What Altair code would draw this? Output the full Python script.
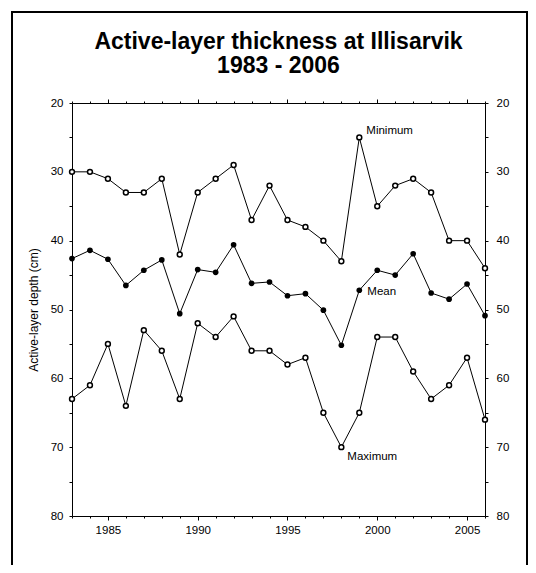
import altair as alt
import pandas as pd

years = list(range(1983, 2007))
minimum = [30, 30, 31, 33, 33, 31, 42, 33, 31, 29, 37, 32, 37, 38, 40, 43, 25, 35, 32, 31, 33, 40, 40, 44]
mean = [42.6, 41.4, 42.7, 46.5, 44.3, 42.8, 50.6, 44.2, 44.6, 40.6, 46.2, 46.0, 48.0, 47.7, 50.1, 55.2,
        47.2, 44.3, 45.0, 41.9, 47.6, 48.5, 46.3, 50.9]
maximum = [63, 61, 55, 64, 53, 56, 63, 52, 54, 51, 56, 56, 58, 57, 65, 70, 65, 54, 54, 59, 63, 61, 57, 66]

label_names = ["Minimum", "Mean", "Maximum"]
label_years = [1999, 1999, 1998]
label_values = [25, 47.2, 70]

y_ticks = list(range(20, 81, 5))

rows = []
for name, vals in [("Minimum", minimum), ("Mean", mean), ("Maximum", maximum)]:
    for yr, v in zip(years, vals):
        rows.append({"year": yr, "depth": v, "series": name})
df = pd.DataFrame(rows)
labels_df = pd.DataFrame({"label": label_names, "year": label_years, "depth": label_values})

FONT = "Liberation Sans"
xscale = alt.Scale(domain=[1983, 2006], nice=False, zero=False)
yscale = alt.Scale(domain=[20, 80], reverse=True, nice=False, zero=False)

x_tick = {"condition": {"test": "datum.value % 5 == 0", "value": 4}, "value": 2}

common = dict(domainColor="black", tickColor="black", grid=False, labelFont=FONT,
              labelFontSize=11.5, labelColor="black", domainWidth=1, tickWidth=1)

ax_bottom = alt.Axis(orient="bottom", values=years, format="d",
                     labelExpr="datum.value % 5 == 0 ? datum.label : ''",
                     tickSize=x_tick, labelPadding=4, title=None, labelFlush=False, **common)
ax_top = alt.Axis(orient="top", values=years, labels=False, tickSize=x_tick, title=None, **common)
ax_left = alt.Axis(orient="left", values=y_ticks, format="d",
                   labelExpr="datum.value % 10 == 0 ? datum.label : ''",
                   tickSize=3, labelPadding=6, title="Active-layer depth (cm)",
                   titleFont=FONT, titleFontSize=12, titleFontWeight="normal", titleColor="black",
                   titlePadding=10, labelFlush=False, **common)
ax_right = alt.Axis(orient="right", values=y_ticks, format="d",
                    labelExpr="datum.value % 10 == 0 ? datum.label : ''",
                    tickSize=3, labelPadding=8, title=None, labelFlush=False, **common)

base = alt.Chart(df)

lines = base.mark_line(color="black", strokeWidth=1).encode(
    x=alt.X("year:Q", scale=xscale, axis=ax_bottom),
    y=alt.Y("depth:Q", scale=yscale, axis=ax_left),
    detail="series:N",
)

open_pts = base.transform_filter("datum.series != 'Mean'").mark_point(
    shape="circle", size=24, filled=True, fill="white", stroke="black", strokeWidth=1.5, opacity=1
).encode(
    x=alt.X("year:Q", scale=xscale, axis=ax_top),
    y=alt.Y("depth:Q", scale=yscale, axis=ax_right),
)

filled_pts = base.transform_filter("datum.series == 'Mean'").mark_point(
    shape="circle", size=32, filled=True, color="black", opacity=1
).encode(
    x=alt.X("year:Q", scale=xscale, axis=None),
    y=alt.Y("depth:Q", scale=yscale, axis=None),
)

def label_layer(name, dx, dy):
    return alt.Chart(labels_df).transform_filter(f"datum.label == '{name}'").mark_text(
        align="left", baseline="middle", dx=dx, dy=dy, font=FONT, fontSize=11.5, color="black"
    ).encode(
        x=alt.X("year:Q", scale=xscale, axis=None),
        y=alt.Y("depth:Q", scale=yscale, axis=None),
        text="label:N",
    )

texts = [label_layer("Minimum", 7, -6), label_layer("Mean", 8, 2), label_layer("Maximum", 6, 10)]

frame = alt.Chart(pd.DataFrame({"a": [0]})).mark_rect(
    fill=None, stroke="black", strokeWidth=2
).encode(
    x=alt.value(-60), x2=alt.value(455), y=alt.value(-91), y2=alt.value(480)
)

chart = alt.layer(frame, lines, open_pts, filled_pts, *texts).resolve_axis(
    x="independent", y="independent"
).properties(
    width=413, height=413,
    autosize=alt.AutoSizeParams(type="none"),
    padding={"left": 64, "top": 95, "right": 43, "bottom": 49},
    title=alt.Title(text=["Active-layer thickness at Illisarvik", "1983 - 2006"],
                    font=FONT, fontSize=23, fontWeight="bold", color="black",
                    anchor="middle", offset=-67, lineHeight=24),
    background="white",
).configure_view(stroke=None)

chart.save("out.html", embed_options={"renderer": "svg", "actions": False})
